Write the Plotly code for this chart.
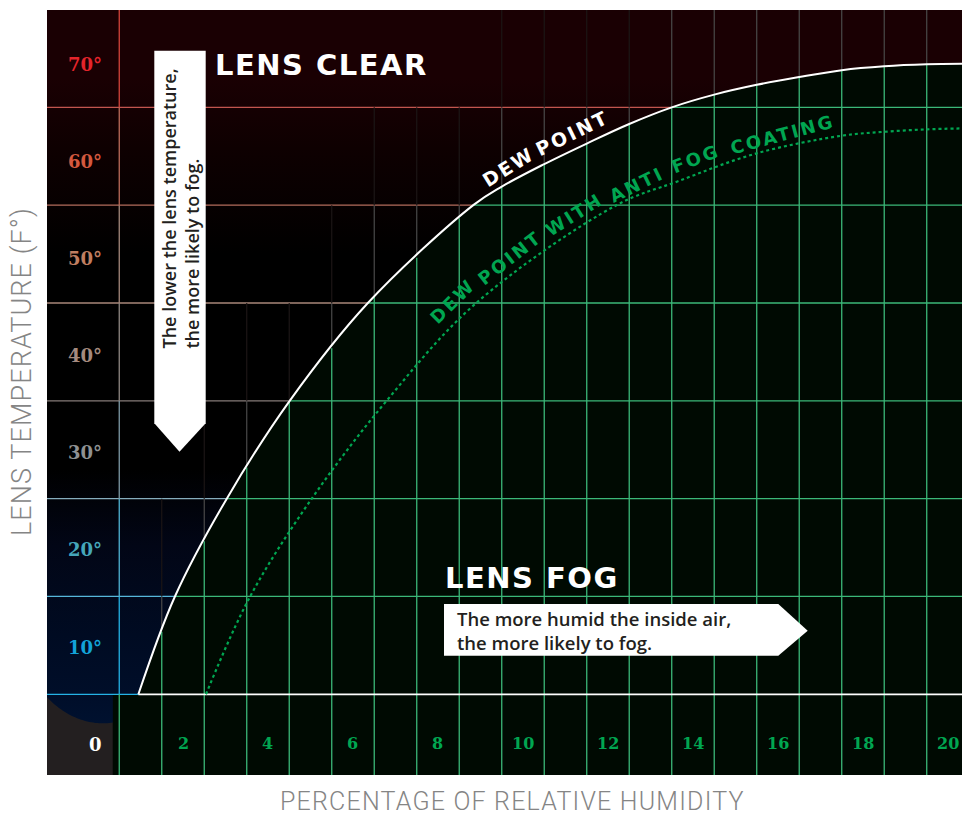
import numpy as np
import plotly.graph_objects as go

# ---------------- data ----------------
humidity_ticks = [2, 4, 6, 8, 10, 12, 14, 16, 18, 20]
humidity_labels = ["2", "4", "6", "8", "10", "12", "14", "16", "18", "20"]
temp_ticks = [0, 10, 20, 30, 40, 50, 60, 70]
temp_labels = ["0", "10°", "20°", "30°", "40°", "50°", "60°", "70°"]
temp_label_colors = ["#ffffff", "#12a3d8", "#45a6ba", "#8f9192",
                     "#a58a7f", "#c07e60", "#d4583e", "#e5242b"]

# dew point curve (relative humidity %, lens temperature F)
dew_x = [0.95, 1.81, 3.03, 4.51, 6.35, 8.83, 9.5, 10.5, 11.5, 12.5, 13.5,
         14.5, 15.5, 16.5, 17.5, 18.5, 19.5, 20.4]
dew_y = [5.0, 15.0, 25.0, 35.0, 45.0, 55.0, 56.9, 59.2, 61.3, 63.3, 65.0,
         66.3, 67.3, 68.1, 68.8, 69.2, 69.4, 69.45]

# dew point with anti fog coating
anti_x = [2.54, 3.58, 5.03, 6.79, 8.9, 12.2, 13.62, 15.5, 17.5, 18.5, 19.5, 20.4]
anti_y = [5.0, 15.0, 25.0, 35.0, 45.0, 55.0, 57.4, 60.3, 62.1, 62.5, 62.75, 62.85]

# grid
h_grid = [5, 15, 25, 35, 45, 55, 65]
h_grid_colors = ["#25b3e6", "#56b7da", "#86adbd", "#857b78",
                 "#a8877a", "#b46c5c", "#c2564f"]
row_colors = ["#24b0e2", "#4fb2d2", "#7c98a4", "#8e8682",
              "#a3877b", "#bb6a5a", "#d3433b"]
v_grid = [0.5, 1.5, 2.5, 3.5, 4.5, 5.5, 6.5, 7.5, 8.5, 9.5, 10.5, 11.5,
          12.5, 13.5, 14.5, 15.5, 16.5, 17.5, 18.5, 19.5]

# ---------------- layout constants ----------------
X_MIN, X_MAX = -1.2, 20.33
Y_MIN, Y_MAX = -3.25, 74.95
LABEL_EDGE = 0.35
W, H = 962, 816
PL, PR, PT, PB = 47, 962, 10, 775

FOG_BG = "#000a02"
GRID_GREEN = "#3bb878"
ANTI_GREEN = "#00a651"
DARK_TEXT = "#231f20"
TITLE_GREY = "#858585"


def px(x):
    return (x - PL) / (PR - PL)


def py(y):
    return (PB - y) / (PB - PT)


def spaced(text, sp):
    return f'<span style="letter-spacing:{sp}px">{text}</span>'


fig = go.Figure()


def line_trace(xs, ys, color, width=1.3, dash=None, shape="linear"):
    fig.add_trace(go.Scatter(x=xs, y=ys, mode="lines",
                             line=dict(color=color, width=width, dash=dash, shape=shape),
                             hoverinfo="skip", showlegend=False))


# maroon glow at the top ("lens clear")
fig.add_trace(go.Scatter(
    x=[X_MIN - 0.1, X_MAX + 0.1, X_MAX + 0.1, X_MIN - 0.1],
    y=[45, 45, Y_MAX + 1, Y_MAX + 1], mode="none", fill="toself",
    fillgradient=dict(type="vertical", start=50, stop=68,
                      colorscale=[[0, "#000000"], [0.6, "#0e0001"], [1, "#1a0003"]]),
    hoverinfo="skip", showlegend=False))

# blue glow bottom-left
cx, cy, rx, ry = 0.12, 14.3, 2.12, 12.27
arc_x = np.linspace(X_MIN - 0.1, 1.5, 60)
arc_y = cy - ry * np.sqrt(np.clip(1 - ((arc_x - cx) / rx) ** 2, 0, None))
glow_x = list(arc_x) + [4.0, 4.0, X_MIN - 0.1]
glow_y = list(arc_y) + [h_grid[0], 28, 28]
fig.add_trace(go.Scatter(
    x=glow_x, y=glow_y, mode="none", fill="toself",
    fillgradient=dict(type="vertical", start=2, stop=28,
                      colorscale=[[0, "#00112f"], [0.12, "#000e29"], [0.35, "#000b22"],
                                  [0.7, "#020616"], [1, "#000000"]]),
    hoverinfo="skip", showlegend=False))

# fog band below the baseline
fig.add_trace(go.Scatter(
    x=[LABEL_EDGE, X_MAX + 0.1, X_MAX + 0.1, LABEL_EDGE],
    y=[Y_MIN - 1, Y_MIN - 1, h_grid[0], h_grid[0]], mode="none", fill="toself",
    fillcolor=FOG_BG, hoverinfo="skip", showlegend=False))

# clear-region horizontal gridlines (coloured by temperature)
for h, c in zip(h_grid, h_grid_colors):
    line_trace([X_MIN, X_MAX], [h, h], c)

# coloured first vertical line by row
row_edges = h_grid + [Y_MAX]
for i, c in enumerate(row_colors):
    line_trace([v_grid[0], v_grid[0]], [row_edges[i], row_edges[i + 1]], c)

# grey vertical lines near the curve in the clear region
gx_a, gy_a, gx_b, gy_b = [], [], [], []
for v in v_grid[1:]:
    yc = float(np.interp(v, dew_x, dew_y))
    uppers = [g for g in row_edges if g > yc + 0.01]
    if not uppers:
        continue
    gx_a += [v, v, None]
    gy_a += [yc, uppers[0], None]
    if len(uppers) > 1:
        gx_b += [v, v, None]
        gy_b += [uppers[0], uppers[1], None]
line_trace(gx_a, gy_a, "#4a4a4a", 1.2)
line_trace(gx_b, gy_b, "#1c1616", 1.2)

# fog region under the dew point curve
fig.add_trace(go.Scatter(x=[dew_x[0], X_MAX + 0.1], y=[h_grid[0], h_grid[0]],
                         mode="lines", line=dict(width=0), hoverinfo="skip",
                         showlegend=False))
fig.add_trace(go.Scatter(x=dew_x, y=dew_y, mode="lines", fill="tonexty",
                         fillcolor=FOG_BG, line=dict(width=0, shape="spline"),
                         hoverinfo="skip", showlegend=False))

# green gridlines inside the fog region
gg_x, gg_y = [], []
for h in h_grid[1:]:
    xc = float(np.interp(h, dew_y, dew_x))
    gg_x += [xc, X_MAX + 0.1, None]
    gg_y += [h, h, None]
for v in v_grid:
    yc = float(np.interp(v, dew_x, dew_y))
    gg_x += [v, v, None]
    gg_y += [Y_MIN - 1, yc, None]
line_trace(gg_x, gg_y, GRID_GREEN, 1.3)

# white baseline
line_trace([dew_x[0], X_MAX + 0.1], [h_grid[0], h_grid[0]], "#ffffff", 1.8)

# curves
line_trace(anti_x, anti_y, ANTI_GREEN, 2.2, dash="dot", shape="spline")
line_trace(dew_x, dew_y, "#ffffff", 2.0, shape="spline")

# ---------------- shapes ----------------
shapes = [
    dict(type="rect", xref="x", yref="y", x0=X_MIN, x1=LABEL_EDGE, y0=Y_MIN, y1=h_grid[0],
         fillcolor="#231f20", line=dict(width=0), layer="below"),
]


def path(points):
    return "M " + " L ".join(f"{px(a):.5f},{py(b):.5f}" for a, b in points) + " Z"


# vertical callout (arrow pointing down)
shapes.append(dict(type="path", xref="paper", yref="paper",
                   path=path([(154.3, 50.7), (205.7, 50.7), (205.7, 423.3),
                              (179.5, 451.7), (154.3, 423.3)]),
                   fillcolor="#ffffff", line=dict(width=0), layer="above"))
# horizontal callout (arrow pointing right)
shapes.append(dict(type="path", xref="paper", yref="paper",
                   path=path([(444, 604), (778.3, 604), (807.7, 630.7),
                              (778.3, 655.7), (444, 655.7)]),
                   fillcolor="#ffffff", line=dict(width=0), layer="above"))

# ---------------- annotations ----------------
ann = []
for t, lab, col in zip(temp_ticks, temp_labels, temp_label_colors):
    ann.append(dict(x=0.13, y=t, xref="x", yref="y", text=lab, showarrow=False,
                    xanchor="right", yanchor="middle", yshift=-1 - 0.07 * t,
                    font=dict(family="DejaVu Serif", size=18, color=col, weight="bold")))
for t, lab in zip(humidity_ticks, humidity_labels):
    ann.append(dict(x=t, y=0, xref="x", yref="y", text=lab, showarrow=False,
                    xanchor="center", yanchor="middle",
                    font=dict(family="DejaVu Serif", size=16, color=ANTI_GREEN, weight="bold")))


def pann(x, y, text, size, color, family="DejaVu Sans", weight="bold", angle=0,
         xanchor="center", yanchor="middle", align="center"):
    ann.append(dict(x=px(x), y=py(y), xref="paper", yref="paper", text=text,
                    showarrow=False, textangle=angle, xanchor=xanchor, yanchor=yanchor,
                    align=align,
                    font=dict(family=family, size=size, color=color, weight=weight)))


pann(213, 65, spaced("LENS CLEAR", 1.5), 29, "#ffffff", xanchor="left")
pann(443, 578, spaced("LENS FOG", 1.5), 29, "#ffffff", xanchor="left")

pann(180, 208.5, "The lower the lens temperature,<br>the more likely to fog.", 18,
     DARK_TEXT, family="Open Sans", weight=600, angle=-90, align="left")
pann(455, 630.5, "The more humid the inside air,<br>the more likely to fog.", 18.5,
     DARK_TEXT, family="Open Sans", weight=600, xanchor="left", align="left")

# curve labels
pann(508, 167, spaced("DEW", 2.5), 19, "#ffffff", angle=-32)
pann(572, 133, spaced("POINT", 2.5), 19, "#ffffff", angle=-26)
for word, x, y, a in [("DEW", 452, 301, -45), ("POINT", 510, 257, -38),
                      ("WITH", 574, 214, -32), ("ANTI", 637, 185, -26),
                      ("FOG", 696, 159, -21), ("COATING", 782, 134, -15)]:
    pann(x, y, spaced(word, 2.5), 18, ANTI_GREEN, angle=a)

# axis titles
pann(512, 801, spaced("PERCENTAGE OF RELATIVE HUMIDITY", 1.2), 25, TITLE_GREY,
     family="Roboto", weight=300)
pann(22, 372, spaced("LENS TEMPERATURE (F°)", 1.1), 27, TITLE_GREY, family="Roboto",
     weight=300, angle=-90)

fig.update_layout(
    width=W, height=H, autosize=False,
    margin=dict(l=PL, r=W - PR, t=PT, b=H - PB, pad=0),
    paper_bgcolor="#ffffff", plot_bgcolor="#000000",
    showlegend=False,
    xaxis=dict(range=[X_MIN, X_MAX], visible=False, fixedrange=True),
    yaxis=dict(range=[Y_MIN, Y_MAX], visible=False, fixedrange=True),
    shapes=shapes, annotations=ann,
)

fig.write_html("out.html", config={"displayModeBar": False},
               post_script="document.body.style.margin='0px';")
